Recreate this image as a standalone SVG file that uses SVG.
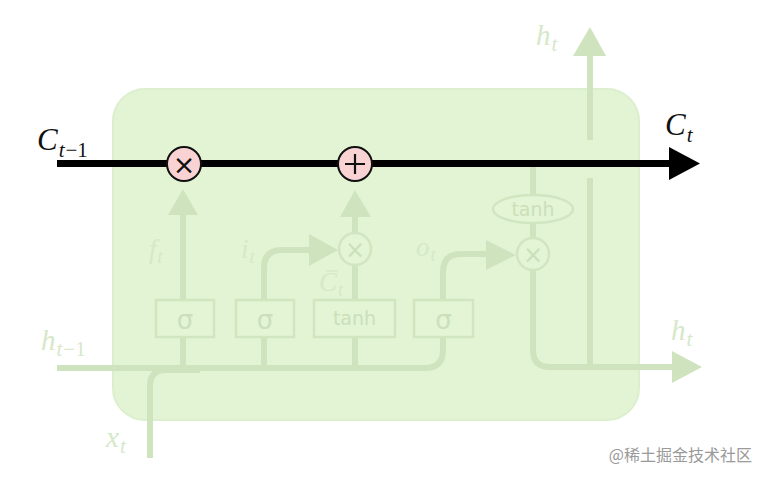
<svg xmlns="http://www.w3.org/2000/svg" width="768" height="479" viewBox="0 0 768 479">
<defs>
<style>
.g{fill:none;stroke:#cfe4be;stroke-width:6}
.gh{fill:#cfe4be}
.box{fill:#e3f5d5;stroke:#d0e5c0;stroke-width:2.5}
.bt{font-family:"DejaVu Sans","Noto Sans",sans-serif;fill:#cbe0ba;text-anchor:middle}
.lab{font-family:"Liberation Serif","DejaVu Serif",serif;font-style:italic;fill:#d5e8c8}
.op{fill:#f9d3d3;stroke:#111;stroke-width:2}
.fop{fill:#e3f5d5;stroke:#d0e5c0;stroke-width:2.5}
</style>
</defs>
<rect width="768" height="479" fill="#fff"/>
<g id="cell"><rect x="113" y="89" width="526" height="331" rx="32" fill="#e2f4d4" stroke="#dcefcd" stroke-width="2"/></g>
<g id="connectors">
<path class="g" d="M57 368 H425 Q443 368 443 350 V337"/>
<path class="g" d="M150 458 V386 Q150 370 166 370 H200"/>
<path class="g" d="M183 368 V337 M264 368 V337 M355 368 V337"/>
<path class="g" d="M183 300 V212"/>
<polygon class="gh" points="168,215 198,215 183,189"/>
<path class="g" d="M264 300 V268 Q264 250 282 250 H312"/>
<polygon class="gh" points="309,234 309,266 338,250"/>
<path class="g" d="M355 300 V266 M355 232 V214"/>
<polygon class="gh" points="340,217 371,217 355,190"/>
<path class="g" d="M443 300 V272 Q443 254 461 254 H489"/>
<polygon class="gh" points="486,240 486,270 516,255"/>
<path class="g" d="M533 167 V195 M533 223 V237"/>
<path class="g" d="M533 270 V350 Q533 367 550 367 H675"/>
<polygon class="gh" points="672,351 672,383 702,367"/>
<path class="g" d="M590 367 V178 M590 140 V53"/>
<polygon class="gh" points="573,56 606,56 590,27"/>
<path d="M57 163.5 H672" stroke="#000" stroke-width="7" fill="none"/>
<polygon points="669,147 669,180 700,163.5" fill="#000"/>
</g>
<g id="forget-sigma"><rect class="box" x="156" y="300" width="58" height="37"/><text class="bt" x="185" y="329" font-size="26">σ</text></g>
<g id="input-sigma"><rect class="box" x="236" y="300" width="58" height="37"/><text class="bt" x="265" y="329" font-size="26">σ</text></g>
<g id="cand-tanh"><rect class="box" x="314" y="300" width="81" height="37"/><text class="bt" x="354.5" y="325" font-size="19">tanh</text></g>
<g id="output-sigma"><rect class="box" x="414" y="300" width="59" height="37"/><text class="bt" x="443.5" y="329" font-size="26">σ</text></g>
<g id="tanh-out"><ellipse class="fop" cx="533" cy="209" rx="40" ry="14"/><text class="bt" x="533" y="216" font-size="19">tanh</text></g>
<g id="mul-input"><circle class="fop" cx="355" cy="249" r="16"/><text class="bt" x="355" y="258" font-size="24">×</text></g>
<g id="mul-output"><circle class="fop" cx="533" cy="254" r="16"/><text class="bt" x="533" y="263" font-size="24">×</text></g>
<g id="mul-forget"><circle class="op" cx="184" cy="164" r="17"/><text x="184" y="173.5" font-family="DejaVu Sans,sans-serif" font-size="27" text-anchor="middle" fill="#111">×</text></g>
<g id="add"><circle class="op" cx="355" cy="164" r="17"/><path d="M345 164 H365 M355 154 V174" stroke="#111" stroke-width="2.2"/></g>
<g id="labels">
<text x="37" y="150" font-family="Liberation Serif,DejaVu Serif,serif" font-style="italic" font-size="31" fill="#111">C<tspan dx="1" dy="7" font-size="21">t</tspan><tspan dx="1" font-style="normal" font-size="21">−1</tspan></text>
<text x="665" y="135" font-family="Liberation Serif,DejaVu Serif,serif" font-style="italic" font-size="31" fill="#111">C<tspan dx="1" dy="7" font-size="21">t</tspan></text>
<text class="lab" x="41" y="350" font-size="29">h<tspan dx="1" dy="6" font-size="21">t</tspan><tspan dx="1" font-style="normal" font-size="21">−1</tspan></text>
<text class="lab" x="106" y="447" font-size="29">x<tspan dx="1" dy="6" font-size="21">t</tspan></text>
<text class="lab" x="536" y="45" font-size="29">h<tspan dx="1" dy="6" font-size="21">t</tspan></text>
<text class="lab" x="671" y="340" font-size="29">h<tspan dx="1" dy="6" font-size="21">t</tspan></text>
<text class="lab" x="149" y="258" font-size="27">f<tspan dx="1" dy="5" font-size="18">t</tspan></text>
<text class="lab" x="241" y="258" font-size="27">i<tspan dx="1" dy="5" font-size="18">t</tspan></text>
<text class="lab" x="416" y="256" font-size="27">o<tspan dx="1" dy="5" font-size="18">t</tspan></text>
<text class="lab" x="319" y="291" font-size="27">C<tspan dx="1" dy="5" font-size="18">t</tspan></text>
<path d="M326 271 H338" stroke="#d5e8c8" stroke-width="1.5"/>
</g>
<text x="752" y="461" font-family="Noto Sans CJK SC,sans-serif" font-size="16" fill="#9a9a9a" text-anchor="end">@稀土掘金技术社区</text>
</svg>
